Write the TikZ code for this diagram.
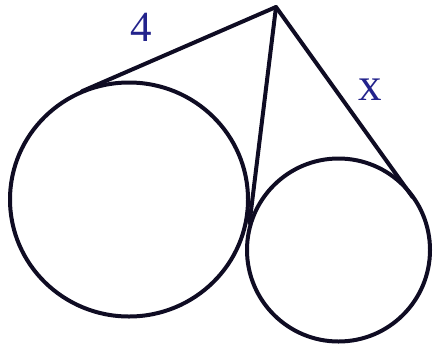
\documentclass[tikz,border=0pt]{standalone}
\usepackage{fontspec}
\setmainfont{Liberation Serif}
\definecolor{ink}{RGB}{15,12,35}
\definecolor{lbl}{RGB}{35,35,140}
\begin{document}
\begin{tikzpicture}[x=1pt,y=-1pt,
  edge/.style={draw=ink,line width=4pt,line cap=round,line join=round},
  lab/.style={text=lbl,inner sep=0pt}]
\useasboundingbox (0,0) rectangle (433,346);
\coordinate (A) at (276,7);
\coordinate (B) at (129,199.5);
\coordinate (S) at (338.5,250);
\coordinate (T1) at (82.1,91.2);
\coordinate (T2) at (249.5,223);
\coordinate (T3) at (412.4,196.9);
\draw[edge] (B) ellipse [x radius=119, y radius=117];
\draw[edge] (S) circle [radius=91.5];
\draw[edge] (T1) -- (A) -- (T3);
\draw[edge] (A) -- (T2);
\node[lab,font=\fontsize{43}{43}\selectfont] (four) at (141,27.5) {4};
\node[lab,font=\fontsize{47}{47}\selectfont] (xl) at (370,90) {x};
\end{tikzpicture}
\end{document}
